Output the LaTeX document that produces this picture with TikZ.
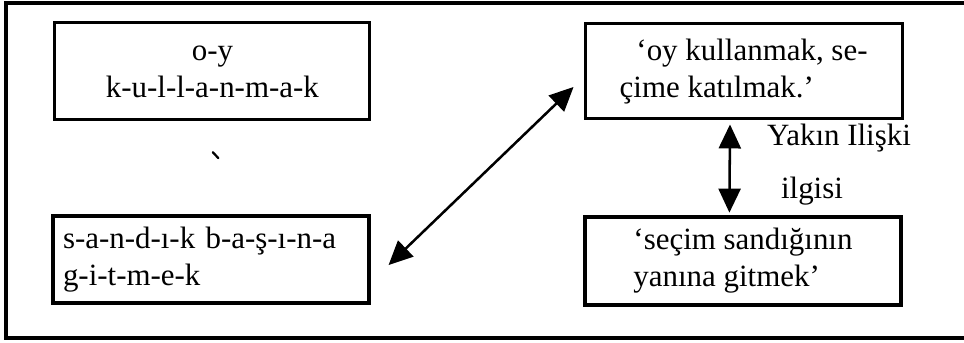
\documentclass[tikz,border=0pt]{standalone}
\usepackage{fontspec}
\setmainfont{Liberation Serif}
\usetikzlibrary{arrows.meta}

\tikzset{
  kutu/.style={draw, line width=2.2pt, inner ysep=0pt},
  cift/.style={{Triangle[length=0.6cm,width=0.55cm]}-{Triangle[length=0.6cm,width=0.55cm]}, line width=1.8pt},
}

\begin{document}
\begin{tikzpicture}[font=\fontsize{22}{26.3}\selectfont]
\useasboundingbox (0,0) rectangle (24.1,8.575);

% Cerceve (sag kenar yok)
\draw[line width=2.2pt] (24.1,8.5) -- (0.15,8.5) -- (0.15,0.125) -- (24.1,0.125);

% Sol kutular
\node[kutu, minimum width=7.875cm, minimum height=2.425cm, align=center] (oy) at (5.31,6.79) {o-y\\k-u-l-l-a-n-m-a-k};
\node[kutu, text width=7.4cm, inner xsep=0.25cm, minimum height=2.175cm, align=left] (sandik) at (5.275,2.0875) {s-a-n-d-ı-k b-a-ş-ı-n-a\\g-i-t-m-e-k};

% Sag kutular
\node[kutu, minimum width=7.925cm, minimum height=2.375cm, align=left] (anlam) at (18.59,6.79) {\hspace*{0.42cm}‘oy kullanmak, se-\\çime katılmak.’};
\node[kutu, minimum width=7.9cm, minimum height=2.2cm, align=left] (gitmek) at (18.575,2.05) {‘seçim sandığının\\yanına gitmek’};

% Oklar
\draw[cift] ([shift={(0.45,-0.14)}]sandik.east) -- ([shift={(-0.25,-0.39)}]anlam.west);
\draw[cift] ([xshift=-0.34cm, yshift=-0.1cm]anlam.south) -- ([xshift=-0.34cm, yshift=0.07cm]gitmek.north);

% Etiketler
\node (yakin) at (20.975,5.125) {Yakın Ilişki};
\node (ilgi) at (20.3,3.8) {ilgisi};

% kucuk isaret
\draw[line width=1.6pt, line cap=round] (5.32,4.77) -- (5.46,4.62);
\end{tikzpicture}
\end{document}
